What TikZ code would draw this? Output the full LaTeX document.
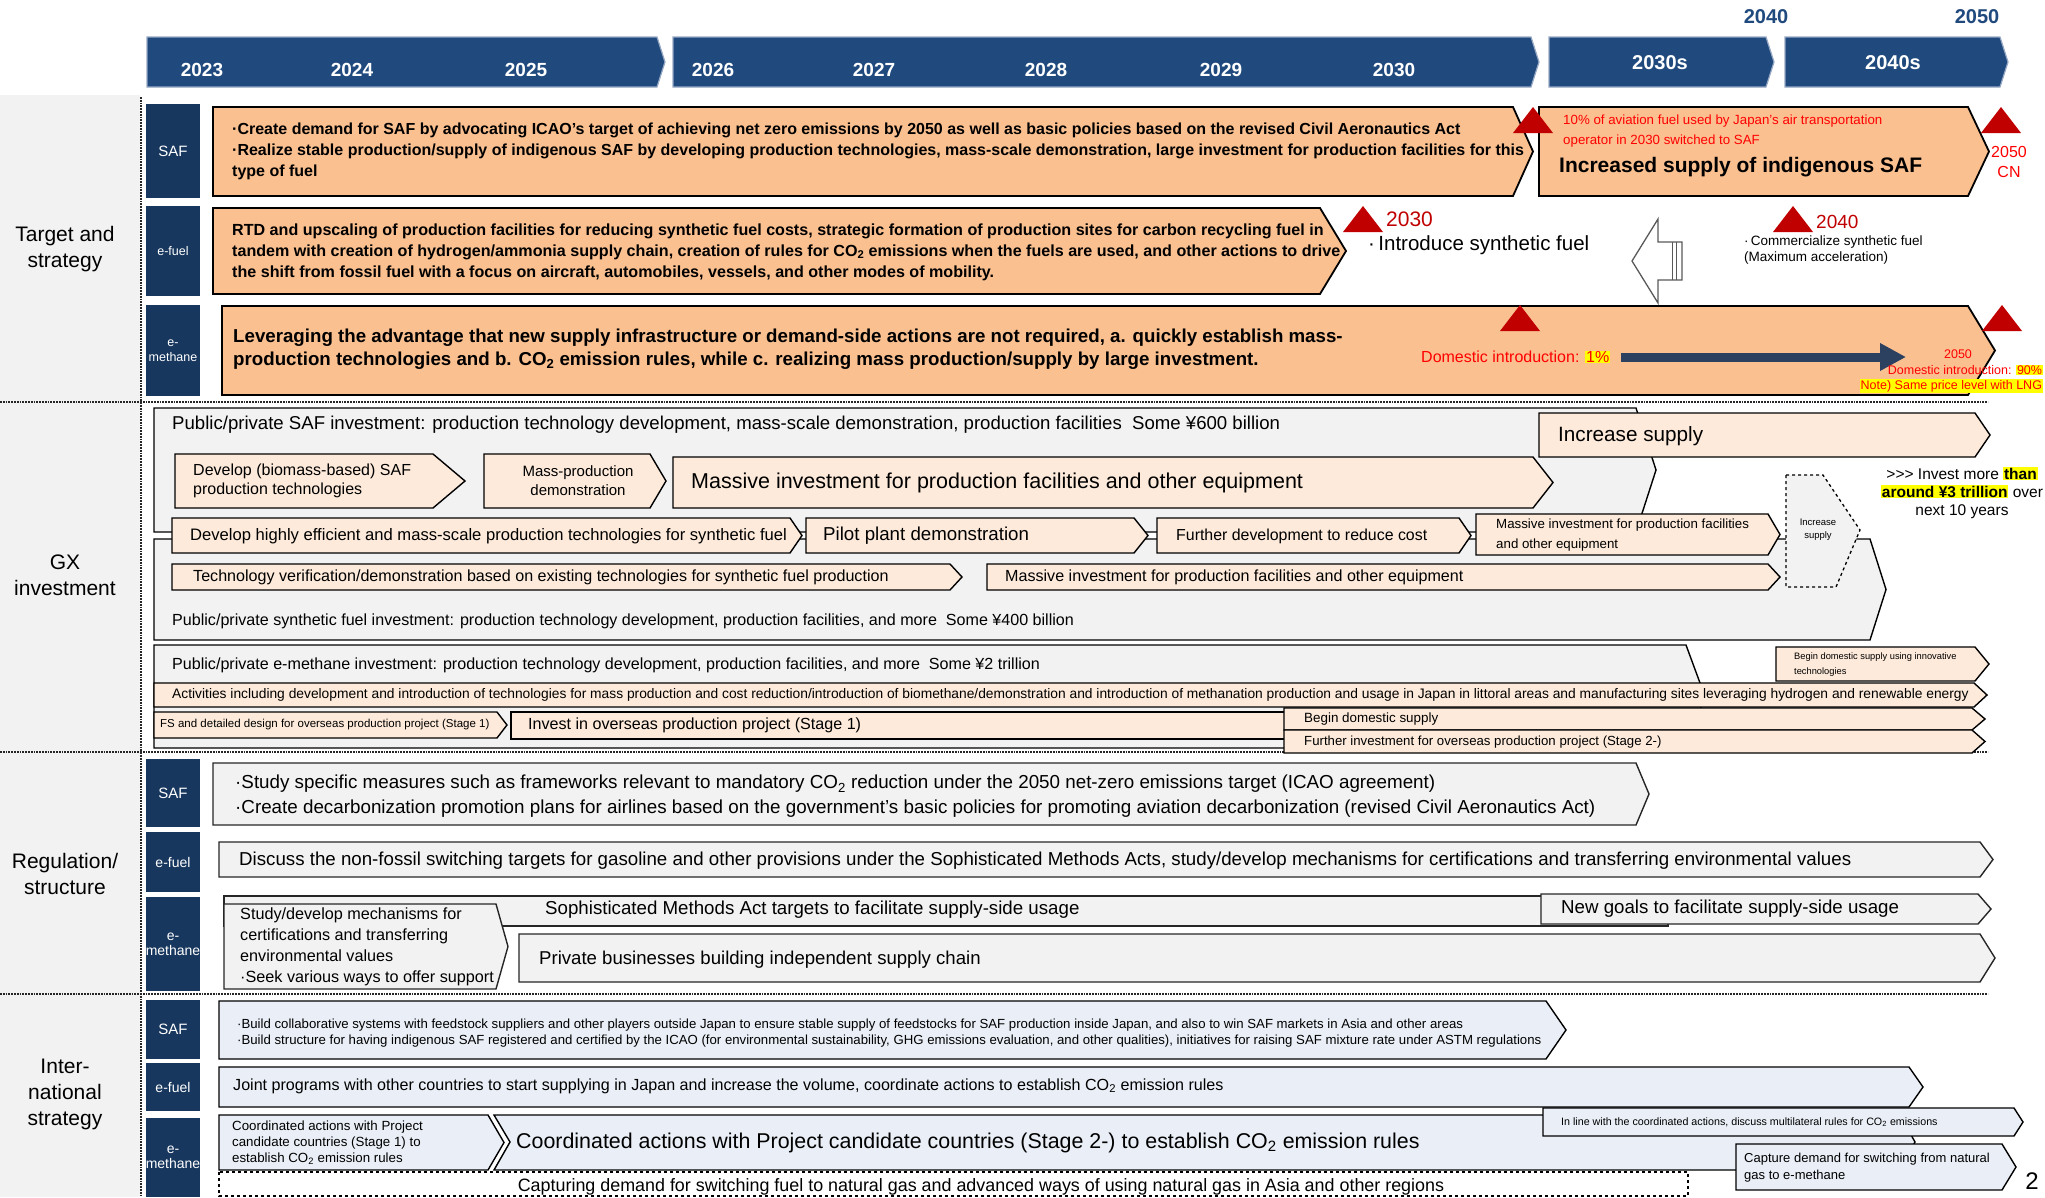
\documentclass[tikz,border=0pt]{standalone}
\usepackage{fontspec}
\setmainfont{Liberation Sans}
\usetikzlibrary{arrows.meta}

\definecolor{hdrblue}{RGB}{32,74,126}
\definecolor{hdredge}{RGB}{150,168,196}
\definecolor{subnavy}{RGB}{24,55,94}
\definecolor{lgray}{RGB}{242,242,242}
\definecolor{tgtorange}{RGB}{250,192,144}
\definecolor{peach}{RGB}{253,234,218}
\definecolor{intblue}{RGB}{234,239,247}
\definecolor{trired}{RGB}{192,0,0}
\definecolor{redtxt}{RGB}{255,0,0}
\definecolor{arrnavy}{RGB}{44,64,96}
\definecolor{hlyellow}{RGB}{255,255,0}
\definecolor{hollowgray}{RGB}{89,89,89}

\newcommand{\fsz}[2]{\fontsize{#1}{#2}\selectfont}
\newcommand{\hilite}[1]{{\setlength{\fboxsep}{0.8pt}\colorbox{hlyellow}{#1}}}
% pentagon box: style, x1, y1, x2, y2, tip
\newcommand{\pent}[6][]{%
  \draw[#1] (#2,#3) -- (#4,#3) -- ({#4+#6},{(#3+#5)/2}) -- (#4,#5) -- (#2,#5) -- cycle;}
\newcommand{\redtri}[2]{%
  \fill[trired] ({#1-20},{#2+13}) -- (#1,{#2-13}) -- ({#1+20},{#2+13}) -- cycle;}

\begin{document}
\begin{tikzpicture}[x=1pt,y=-1pt,
  txt/.style={anchor=west,inner sep=0pt,align=left},
  ctxt/.style={inner sep=0pt,align=center},
  hdr/.style={fill=hdrblue,draw=hdredge,line width=1.2pt},
  yr/.style={text=white,font=\fsz{19}{23}\bfseries,inner sep=0pt},
  sect/.style={inner sep=0pt,align=center,font=\fsz{21}{26}},
  sub/.style={fill=subnavy,text=white,inner sep=0pt,align=center,minimum width=54},
  sep/.style={densely dotted,line width=1.8pt,black!85},
  tgtbox/.style={fill=tgtorange,draw=black,line width=1.8pt},
  gxbox/.style={fill=lgray,draw=black,line width=1.4pt},
  pchbox/.style={fill=peach,draw=black,line width=1.4pt},
  regbox/.style={fill=lgray,draw=black!85,line width=1.4pt},
  intbox/.style={fill=intblue,draw=black,line width=1.4pt},
  darkarr/.style={draw=arrnavy,line width=9pt,-{Triangle[length=26pt,width=26pt]}},
  ]
\useasboundingbox (0,0) rectangle (2045,1197);

% Left column and separators
\fill[lgray] (0,95) rectangle (140,1197);
\draw[sep] (141,97) -- (141,1197);
\foreach \yy in {402,752,994}
  \draw[sep] (0,\yy) -- (1988,\yy);

\node[sect] (secTgt) at (65,249) {Target and\\strategy};
\node[sect] (secGX) at (65,575) {GX\\investment};
\node[sect] (secReg) at (65,874) {Regulation/\\structure};
\node[sect] (secInt) at (65,1094) {Inter-\\national\\strategy};

% Timeline header
\pent[hdr]{147}{37}{657}{87}{8}
\pent[hdr]{673}{37}{1531}{87}{8}
\pent[hdr]{1549}{37}{1766}{87}{8}
\pent[hdr]{1785}{37}{2000}{87}{8}
\foreach \yrs/\xc in {2023/202,2024/352,2025/526,2026/713,2027/874,2028/1046,2029/1221,2030/1394}
  \node[yr] (yr\yrs) at (\xc,70) {\yrs};
\node[yr,font=\fsz{20}{24}\bfseries] (yr2030s) at (1660,63) {2030s};
\node[yr,font=\fsz{20}{24}\bfseries] (yr2040s) at (1893,63) {2040s};
\node[ctxt,text=hdrblue,font=\fsz{20}{24}\bfseries] (top2040) at (1766,17) {2040};
\node[ctxt,text=hdrblue,font=\fsz{20}{24}\bfseries] (top2050) at (1977,17) {2050};

% Row labels
\foreach \nm/\yc/\hh/\lbl/\fz in {tSAF/151/94/SAF/15, tEf/251/90/e-fuel/12.5, tEm/350.5/91/{e-\\methane}/12.5,
    rSAF/793/68/SAF/15, rEf/862/60/e-fuel/14, rEm/944/94/{e-\\methane}/14,
    iSAF/1029.5/59/SAF/15, iEf/1087/48/e-fuel/14, iEm/1157.5/79/{e-\\methane}/14}
  \node[sub,minimum height=\hh,font=\fsz{\fz}{15}] (\nm) at (173,\yc) {\lbl};

% Target and strategy
\pent[tgtbox]{213}{107}{1513}{196}{20}
\pent[tgtbox]{1539}{107}{1968}{196}{21}
\pent[tgtbox]{213}{208}{1320}{294}{26}
\pent[tgtbox]{222}{306}{1968}{395}{27}

\node[txt,font=\fsz{16}{21}\bfseries] (safGoal) at (232,151) {·Create demand for SAF by advocating ICAO’s target of achieving net zero emissions by 2050 as well as basic policies based on the revised Civil Aeronautics Act\\·Realize stable production/supply of indigenous SAF by developing production technologies, mass-scale demonstration, large investment for production facilities for this\\type of fuel};
\node[txt,font=\fsz{13.3}{20},text=redtxt] (safTen) at (1563,131) {10\% of aviation fuel used by Japan’s air transportation\\operator in 2030 switched to SAF};
\node[txt,font=\fsz{21}{25}\bfseries] (safInc) at (1559,167) {Increased supply of indigenous SAF};
\node[ctxt,font=\fsz{16}{20},text=redtxt] (safCN) at (2009,162) {2050\\CN};

\node[txt,font=\fsz{16.1}{21}\bfseries] (efGoal) at (232,252) {RTD and upscaling of production facilities for reducing synthetic fuel costs, strategic formation of production sites for carbon recycling fuel in\\tandem with creation of hydrogen/ammonia supply chain, creation of rules for CO\textsubscript{2} emissions when the fuels are used, and other actions to drive\\the shift from fossil fuel with a focus on aircraft, automobiles, vessels, and other modes of mobility.};
\node[txt,font=\fsz{21}{25},text=trired] (ef2030) at (1386,219) {2030};
\node[txt,font=\fsz{20.5}{24}] (efIntro) at (1368,245) {·\,Introduce synthetic fuel};
\node[txt,font=\fsz{19}{23},text=trired] (ef2040) at (1816,222) {2040};
\node[txt,font=\fsz{13.5}{16}] (efComm) at (1744,250) {·\,Commercialize synthetic fuel\\(Maximum acceleration)};

% hollow arrow
\draw[fill=white,draw=hollowgray,line width=1.3pt] (1632,261) -- (1658,219) -- (1658,242) -- (1682,242)
  -- (1682,280) -- (1658,280) -- (1658,303) -- cycle;
\draw[hollowgray,line width=1pt] (1672,242) -- (1672,280) (1676,242) -- (1676,280);

\node[txt,font=\fsz{18.7}{23}\bfseries] (emGoal) at (233,349.5) {Leveraging the advantage that new supply infrastructure or demand-side actions are not required, a. quickly establish mass-\\production technologies and b. CO\textsubscript{2} emission rules, while c. realizing mass production/supply by large investment.};
\node[txt,font=\fsz{16}{19},text=redtxt] (emDom1) at (1421,357) {Domestic introduction: \hilite{1\%}};
\coordinate (emArrEnd) at (1906,357);
\draw[darkarr] ([xshift=11pt]emDom1.east) -- (emArrEnd);
\node[ctxt,font=\fsz{12.5}{15},text=redtxt] (em2050) at (1958,354) {2050};
\node[anchor=east,inner sep=0pt,font=\fsz{12.5}{15},text=redtxt] (emDom90) at (2043,370) {Domestic introduction: \hilite{90\%}};
\node[anchor=east,inner sep=0pt,font=\fsz{12.5}{15},text=redtxt] (emNote) at (2043,386) {\hilite{Note) Same price level with LNG}};

\redtri{1533}{120}
\redtri{2001}{120}
\redtri{1363}{219}
\redtri{1793}{219}
\redtri{1520}{318}
\redtri{2002}{318}

% GX investment
\pent[gxbox]{154}{408}{1636}{532}{20}
\pent[gxbox]{154}{539}{1870}{640}{16}
\pent[gxbox]{154}{645}{1686}{748}{19}

\pent[pchbox]{1539}{413}{1975}{457}{15}
\pent[pchbox]{175}{454}{433}{508}{32}
\pent[pchbox]{484}{454}{650}{508}{16}
\pent[pchbox]{673}{457}{1533}{508}{20}
\pent[pchbox]{172}{518}{790}{553}{12}
\pent[pchbox]{806}{518}{1134}{553}{14}
\pent[pchbox]{1157}{518}{1459}{553}{12}
\pent[pchbox]{1476}{514}{1768}{555}{12}
\pent[pchbox]{172}{564}{950}{590}{12}
\pent[pchbox]{987}{564}{1768}{590}{12}
\draw[dashed,line width=1.3pt,fill=lgray] (1786,475) -- (1823,475) -- (1860,530) -- (1836,587) -- (1786,587) -- cycle;

\pent[pchbox]{1776}{647}{1975}{681}{14}
\pent[pchbox]{154}{683}{1974}{707}{13}
\pent[pchbox]{154}{712}{497}{738}{10}
\draw[pchbox] (511,712) rectangle (1290,739);
\pent[pchbox]{1284}{708}{1972}{730}{13}
\pent[pchbox]{1284}{730}{1972}{753}{13}

\node[txt,font=\fsz{18.6}{22}] (gxSAF) at (172,425) {Public/private SAF investment: production technology development, mass-scale demonstration, production facilities\ \ Some ¥600 billion};
\node[txt,font=\fsz{20.7}{24}] (gxInc) at (1558,436) {Increase supply};
\node[txt,font=\fsz{16}{19}] (gxBio) at (193,481) {Develop (biomass-based) SAF\\production technologies};
\node[ctxt,font=\fsz{15}{19}] (gxMassDemo) at (578,481) {Mass-production\\demonstration};
\node[txt,font=\fsz{21.5}{25}] (gxMassInv) at (691,483) {Massive investment for production facilities and other equipment};
\node[txt,font=\fsz{16.6}{20}] (gxHigh) at (190,536) {Develop highly efficient and mass-scale production technologies for synthetic fuel};
\node[txt,font=\fsz{18.7}{22}] (gxPilot) at (823,536) {Pilot plant demonstration};
\node[txt,font=\fsz{15.9}{19}] (gxFurther) at (1176,536) {Further development to reduce cost};
\node[txt,font=\fsz{13.3}{19.5}] (gxMassSmall) at (1496,535) {Massive investment for production facilities\\and other equipment};
\node[ctxt,font=\fsz{9.5}{13}] (gxInc2) at (1818,530) {Increase\\supply};
\node[txt,font=\fsz{16.1}{19}] (gxTech) at (193,577) {Technology verification/demonstration based on existing technologies for synthetic fuel production};
\node[txt,font=\fsz{16.1}{19}] (gxMassC) at (1005,577) {Massive investment for production facilities and other equipment};
\node[txt,font=\fsz{16.1}{19}] (gxSyn) at (172,621) {Public/private synthetic fuel investment: production technology development, production facilities, and more\ \ Some ¥400 billion};
\node[ctxt,font=\fsz{15.5}{18}] (gxMore) at (1962,493) {>{}>{}> Invest more \hilite{\textbf{than}}\\\hilite{\textbf{around ¥3 trillion}} over\\next 10 years};

\node[txt,font=\fsz{16.1}{19}] (gxEm) at (172,665) {Public/private e-methane investment: production technology development, production facilities, and more\ \ Some ¥2 trillion};
\node[txt,font=\fsz{9.3}{15}] (gxInnov) at (1794,664.5) {Begin domestic supply using innovative\\technologies};
\node[txt,font=\fsz{13.8}{16}] (gxAct) at (172,695) {Activities including development and introduction of technologies for mass production and cost reduction/introduction of biomethane/demonstration and introduction of methanation production and usage in Japan in littoral areas and manufacturing sites leveraging hydrogen and renewable energy};
\node[txt,font=\fsz{11.5}{14}] (gxFS) at (160,725) {FS and detailed design for overseas production project (Stage 1)};
\node[txt,font=\fsz{16.1}{19}] (gxInvS1) at (528,725) {Invest in overseas production project (Stage 1)};
\node[txt,font=\fsz{13.4}{16}] (gxBegin) at (1304,719) {Begin domestic supply};
\node[txt,font=\fsz{13.2}{16}] (gxInvS2) at (1304,742) {Further investment for overseas production project (Stage 2-)};

% Regulation / structure
\pent[regbox]{213}{763}{1636}{825}{13}
\pent[regbox]{219}{842}{1980}{877}{13}
\draw[regbox] (224,896) rectangle (1668,926);
\pent[regbox]{1541}{894}{1978}{924}{13}
\pent[regbox]{519}{934}{1980}{982}{15}
\pent[regbox]{224}{904}{496}{989}{12}

\node[txt,font=\fsz{18.8}{25}] (regSAF) at (235,796.5) {·Study specific measures such as frameworks relevant to mandatory CO\textsubscript{2} reduction under the 2050 net-zero emissions target (ICAO agreement)\\·Create decarbonization promotion plans for airlines based on the government’s basic policies for promoting aviation decarbonization (revised Civil Aeronautics Act)};
\node[txt,font=\fsz{18.7}{22}] (regEf) at (239,861) {Discuss the non-fossil switching targets for gasoline and other provisions under the Sophisticated Methods Acts, study/develop mechanisms for certifications and transferring environmental values};
\node[txt,font=\fsz{18.7}{22}] (regSoph) at (545,910) {Sophisticated Methods Act targets to facilitate supply-side usage};
\node[txt,font=\fsz{18.7}{22}] (regNew) at (1561,909) {New goals to facilitate supply-side usage};
\node[txt,font=\fsz{18.6}{22}] (regPriv) at (539,960) {Private businesses building independent supply chain};
\node[txt,font=\fsz{16.2}{21}] (regStudy) at (240,946.5) {Study/develop mechanisms for\\certifications and transferring\\environmental values\\·Seek various ways to offer support};

% International strategy
\pent[intbox]{219}{1001}{1546}{1059}{20}
\pent[intbox]{219}{1067}{1909}{1107}{14}
\draw[intbox] (494,1115) -- (1900,1115) -- (1915,1142) -- (1900,1170) -- (494,1170) -- (510,1142) -- cycle;
\pent[intbox]{219}{1115}{488}{1170}{16}
\pent[intbox]{1543}{1108}{2014}{1136}{9}
\pent[intbox]{1736}{1144}{2002}{1190}{14}
\draw[dashed,line width=1.3pt] (219,1172) rectangle (1688,1196);

\node[txt,font=\fsz{13.2}{16}] (intSAF) at (237,1033) {·Build collaborative systems with feedstock suppliers and other players outside Japan to ensure stable supply of feedstocks for SAF production inside Japan, and also to win SAF markets in Asia and other areas\\·Build structure for having indigenous SAF registered and certified by the ICAO (for environmental sustainability, GHG emissions evaluation, and other qualities), initiatives for raising SAF mixture rate under ASTM regulations};
\node[txt,font=\fsz{16.1}{19}] (intEf) at (233,1086) {Joint programs with other countries to start supplying in Japan and increase the volume, coordinate actions to establish CO\textsubscript{2} emission rules};
\node[txt,font=\fsz{13.3}{16}] (intS1) at (232,1143) {Coordinated actions with Project\\candidate countries (Stage 1) to\\establish CO\textsubscript{2} emission rules};
\node[txt,font=\fsz{21.4}{25}] (intS2) at (516,1143) {Coordinated actions with Project candidate countries (Stage 2-) to establish CO\textsubscript{2} emission rules};
\node[txt,font=\fsz{10.7}{13}] (intLine) at (1561,1122) {In line with the coordinated actions, discuss multilateral rules for CO\textsubscript{2} emissions};
\node[txt,font=\fsz{13}{17}] (intCap) at (1744,1167.5) {Capture demand for switching from natural\\gas to e-methane};
\node[ctxt,font=\fsz{17.9}{21}] (intGas) at (981,1187) {Capturing demand for switching fuel to natural gas and advanced ways of using natural gas in Asia and other regions};
\node[ctxt,font=\fsz{24}{28}] (pageNo) at (2032,1181) {2};

\end{tikzpicture}
\end{document}
